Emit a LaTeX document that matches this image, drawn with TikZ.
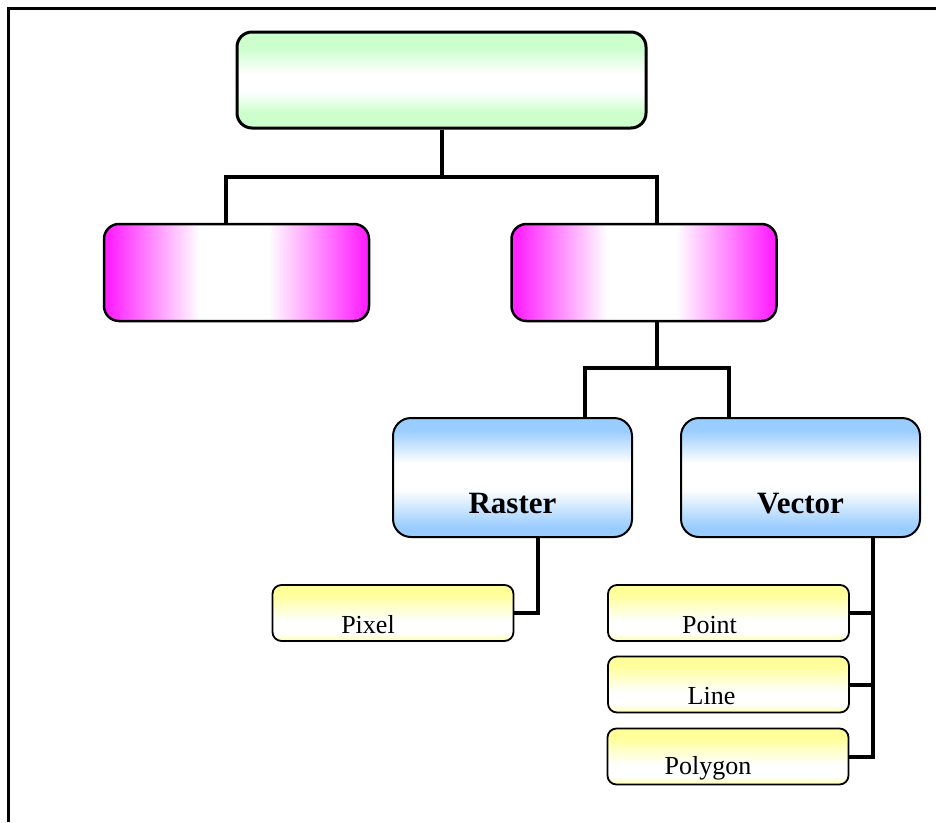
\documentclass[tikz,border=0pt]{standalone}
\usepackage{fontspec}
\setmainfont{Liberation Serif}
\usepackage{tikz}
\usetikzlibrary{positioning}
\definecolor{mintGreen}{RGB}{204, 255, 204}
\definecolor{hotMagenta}{RGB}{255, 34, 255}
\definecolor{skyBlue}{RGB}{153, 204, 255}
\definecolor{paleYellow}{RGB}{255, 255, 153}
\pgfdeclareverticalshading{greenBand}{100bp}{color(0bp)=(mintGreen); color(25bp)=(mintGreen); color(33bp)=(mintGreen); color(44bp)=(white); color(53bp)=(white); color(67bp)=(mintGreen); color(100bp)=(mintGreen)}
\pgfdeclarehorizontalshading{magentaBand}{100bp}{color(0bp)=(hotMagenta); color(25bp)=(hotMagenta); color(26bp)=(hotMagenta); color(43bp)=(white); color(56bp)=(white); color(74bp)=(hotMagenta); color(100bp)=(hotMagenta)}
\pgfdeclareverticalshading{blueBand}{100bp}{color(0bp)=(skyBlue); color(25bp)=(skyBlue); color(29bp)=(skyBlue); color(45bp)=(white); color(56bp)=(white); color(70bp)=(skyBlue); color(100bp)=(skyBlue)}
\pgfdeclareverticalshading{yellowBand}{100bp}{color(0bp)=(paleYellow!80); color(25bp)=(paleYellow!80); color(32bp)=(white); color(43bp)=(white); color(67bp)=(paleYellow); color(100bp)=(paleYellow)}

\begin{document}
\begin{tikzpicture}
  [
    x=1pt, y=-1pt,
    Root/.style={rectangle, rounded corners=15pt, draw=black, line width=3pt, shading=greenBand, minimum width=409pt, minimum height=96pt},
    Model/.style={rectangle, rounded corners=15pt, draw=black, line width=2.5pt, shading=magentaBand, minimum width=265pt, minimum height=97pt},
    Kind/.style={rectangle, rounded corners=18pt, draw=black, line width=2pt, shading=blueBand, minimum width=239pt, minimum height=119pt},
    Item/.style={rectangle, rounded corners=9pt, draw=black, line width=1.8pt, shading=yellowBand, minimum width=241pt, minimum height=56pt},
    KindText/.style={anchor=base, yshift=25pt, font=\bfseries\fontsize{31}{31}\selectfont},
    ItemText/.style={anchor=base, yshift=-12pt, font=\fontsize{26}{26}\selectfont},
    Link/.style={draw, line width=4pt}
  ]
  \useasboundingbox (0,0) rectangle (936,822);
  \draw[line width=3pt] (8.5,822) -- (8.5,8.5) -- (936,8.5);

  % Nodes
  \node[Root] (root) at(441.5, 80) {};
  \node[Model] (modelL) at(236.5, 272.5) {};
  \node[Model] (modelR) at(644, 272.5) {};
  \node[Kind, label={[KindText]south:Raster}] (raster) at(512.5, 477.5) {};
  \node[Kind, label={[KindText]south:Vector}] (vector) at(800.5, 477.5) {};
  \node[Item, label={[ItemText, xshift=-25pt]center:Pixel}] (pixel) at(393, 613) {};
  \node[Item, label={[ItemText, xshift=-19pt]center:Point}] (point) at(728.5, 613) {};
  \node[Item, label={[ItemText, xshift=-17pt]center:Line}] (line) at(728.5, 684.5) {};
  \node[Item, label={[ItemText, xshift=-20pt]center:Polygon}] (polygon) at(728, 756.5) {};

  % Junctions
  \coordinate (j1) at(441.5, 177);
  \coordinate (j2) at(656.5, 368);
  \coordinate (j3) at(538, 607);
  \coordinate (j4) at(873, 750);

  % Lines
  \path [Link] (root) -- (j1);
  \path [Link] ([xshift=-10.5pt]modelL.north) |- (j1) -| ([xshift=12.5pt]modelR.north);
  \path [Link] (j2 |- modelR.south) -- (j2);
  \path [Link] ([xshift=72.5pt]raster.north) |- (j2) -| ([xshift=-71.5pt]vector.north);
  \path [Link] (j3 |- raster.south) |- (pixel.east);
  \path [Link] (j4 |- vector.south) |- (polygon.east);
  \path [Link] (point.east) -- (point.east -| j4);
  \path [Link] (line.east) -- (line.east -| j4);
\end{tikzpicture}
\end{document}
